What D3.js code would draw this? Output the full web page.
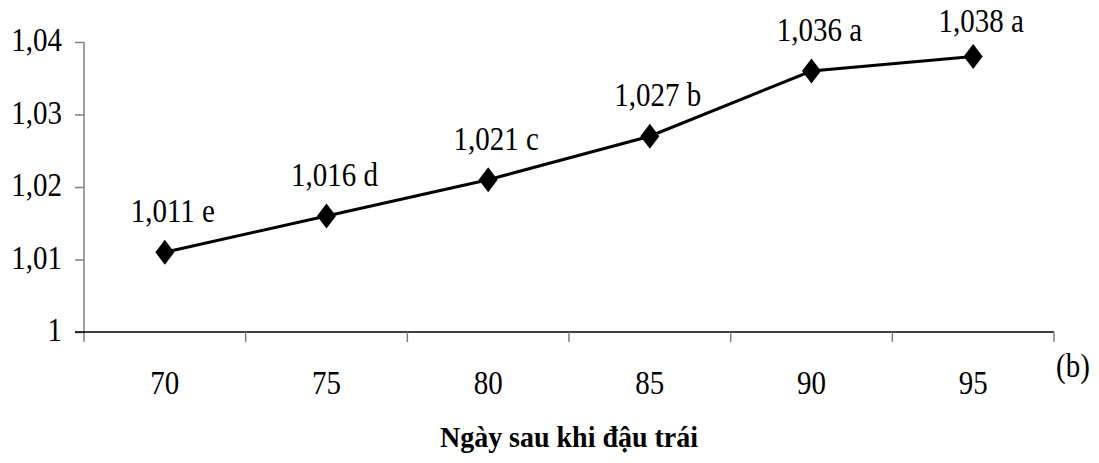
<!DOCTYPE html>
<html lang="vi">
<head>
<meta charset="UTF-8">
<title>Ngày sau khi đậu trái</title>
<script src="https://cdn.jsdelivr.net/npm/d3@7/dist/d3.min.js"></script>
<style>
    body { margin: 0; background: #fff; }
    text { font-family: "Liberation Serif", "Times New Roman", serif; fill: #000; }
</style>
</head>
<body>
<svg id="mainsvg" width="1099" height="463"></svg>
<script>
    // data
    const days = ['70', '75', '80', '85', '90', '95'];
    const values = [1.011, 1.016, 1.021, 1.027, 1.036, 1.038];
    const letters = ['e', 'd', 'c', 'b', 'a', 'a'];
    const yTicks = [1, 1.01, 1.02, 1.03, 1.04];

    const svg = d3.select('#mainsvg');
    const margin = {top: 42, left: 84, right: 45, bottom: 131};
    const width = +svg.attr('width');
    const height = +svg.attr('height');
    const fs = 29, sy = 1.18;   // text looks stretched vertically
    const fmt = v => d3.format('.3~f')(v).replace('.', ',');

    const x = d3.scaleBand()
        .domain(days)
        .range([margin.left, width - margin.right]);
    const y = d3.scaleLinear()
        .domain([1, 1.04])
        .range([height - margin.bottom, margin.top]);

    // text helper: anchor at (px, py) baseline, stretched by sy
    const addText = (g, str, px, py, opts = {}) => g.append('text')
        .attr('transform', `translate(${px},${py}) scale(1,${opts.sy || sy})`)
        .attr('text-anchor', opts.anchor || 'middle')
        .attr('font-size', opts.size || fs)
        .attr('font-weight', opts.weight || 'normal')
        .text(str);

    // y axis
    const yAxis = svg.append('g')
        .attr('transform', `translate(${margin.left},0)`)
        .call(d3.axisLeft(y).tickValues(yTicks).tickSize(9).tickFormat(''));
    yAxis.select('.domain').attr('stroke', '#808080').attr('stroke-width', 1.5)
        .attr('d', `M0,${y(1.04)}V${y(1) + 10}`);
    yAxis.selectAll('.tick line').attr('stroke', '#808080').attr('stroke-width', 1.5);
    yTicks.forEach(t => addText(svg, fmt(t), 62, y(t) + 9, {anchor: 'end'}));

    // x axis
    const xAxis = svg.append('g')
        .attr('transform', `translate(0,${y(1)})`);
    xAxis.append('line')
        .attr('x1', margin.left - 9).attr('x2', x.range()[1])
        .attr('stroke', '#000').attr('stroke-width', 1.5);
    const bounds = days.map(d => x(d)).concat([x.range()[1]]);
    xAxis.selectAll('line.tk')
        .data(bounds.slice(1))
        .join('line')
        .attr('class', 'tk')
        .attr('x1', d => d).attr('x2', d => d)
        .attr('y1', 0).attr('y2', 10)
        .attr('stroke', '#808080').attr('stroke-width', 1.5);
    days.forEach(d => addText(svg, d, x(d) + x.bandwidth() / 2, 394));

    addText(svg, '(b)', 1073, 377);
    addText(svg, 'Ngày sau khi đậu trái', 569, 447, {size: 28, weight: 'bold', sy: 1.05});

    // line
    const cx = d => x(d) + x.bandwidth() / 2;
    const line = d3.line()
        .x((v, i) => cx(days[i]))
        .y(v => y(v));
    svg.append('path')
        .datum(values)
        .attr('d', line)
        .attr('fill', 'none')
        .attr('stroke', '#000')
        .attr('stroke-width', 3);

    // diamond markers
    const hw = 9.5, hh = 12.5;
    svg.selectAll('path.mk')
        .data(values)
        .join('path')
        .attr('class', 'mk')
        .attr('transform', (v, i) => `translate(${cx(days[i])},${y(v)})`)
        .attr('d', `M0,${-hh}L${hw},0L0,${hh}L${-hw},0Z`)
        .attr('fill', '#000');

    // labels
    values.forEach((v, i) => {
        addText(svg, `${fmt(v)} ${letters[i]}`, cx(days[i]) + 8, Math.max(y(v) - 30, 32));
    });
</script>
</body>
</html>
